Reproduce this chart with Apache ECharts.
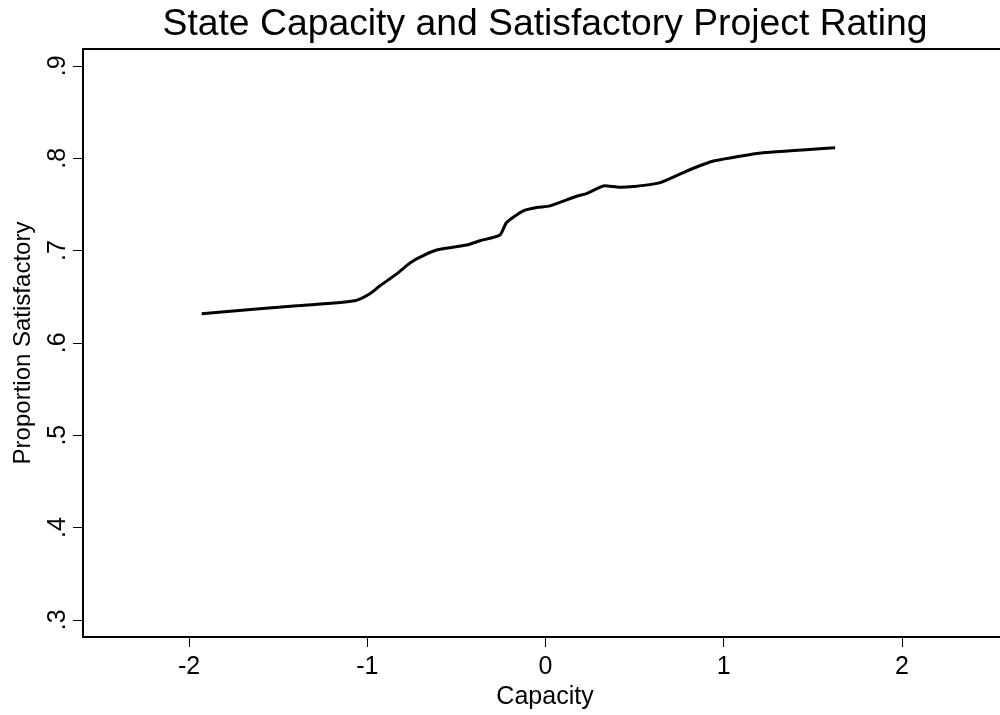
<!DOCTYPE html>
<html>
<head>
<meta charset="utf-8">
<script src="https://cdn.jsdelivr.net/npm/echarts@6/dist/echarts.min.js"></script>
<style>html,body{margin:0;padding:0;background:#fff}#c{width:1000px;height:715px}</style>
</head>
<body>
<div id="c"></div>
<script>
var capacity = [-1.929, -1.621, -1.378, -1.069, -0.985, -0.929, -0.835, -0.779, -0.723, -0.611, -0.442, -0.368, -0.256, -0.218, -0.125, -0.049, 0.025, 0.175, 0.231, 0.334, 0.418, 0.493, 0.643, 0.792, 0.942, 1.222, 1.625];
var propSatisfactory = [0.6316, 0.6366, 0.6404, 0.6457, 0.6532, 0.6618, 0.6747, 0.6837, 0.6909, 0.7006, 0.7060, 0.7106, 0.7168, 0.7305, 0.7430, 0.7466, 0.7484, 0.7588, 0.7617, 0.7701, 0.7685, 0.7693, 0.7736, 0.7861, 0.7969, 0.8059, 0.8113];
var xTicks = [-2, -1, 0, 1, 2];
var yTicks = [0.3, 0.4, 0.5, 0.6, 0.7, 0.8, 0.9];

var FONT = 'Liberation Sans, Arial, Helvetica, sans-serif';
var chart = echarts.init(document.getElementById('c'), null, {renderer: 'canvas'});
var pts = capacity.map(function (x, i) { return [x, propSatisfactory[i]]; });
chart.setOption({
  animation: false,
  backgroundColor: '#fff',
  title: {
    text: 'State Capacity and Satisfactory Project Rating',
    left: 540, top: 1, textAlign: 'center',
    textStyle: {fontFamily: FONT, fontSize: 37.3, fontWeight: 'normal', color: '#000'}
  },
  grid: {left: 83, top: 49, right: 0, bottom: 75, containLabel: false},
  xAxis: [{
    type: 'value', min: -2.595, max: 2.55, position: 'bottom',
    name: 'Capacity', nameLocation: 'middle', nameGap: 48,
    nameTextStyle: {fontFamily: FONT, fontSize: 25, color: '#000', padding: [0, 0, 0, 7]},
    axisLine: {show: true, onZero: false, lineStyle: {color: '#000', width: 2}},
    axisTick: {show: true, length: 10, customValues: xTicks, lineStyle: {color: '#000', width: 1}},
    axisLabel: {customValues: xTicks, margin: 18, fontFamily: FONT, fontSize: 25, color: '#000'},
    splitLine: {show: false}
  }, {
    type: 'value', min: -2.595, max: 2.55, position: 'top',
    axisLine: {show: true, onZero: false, lineStyle: {color: '#000', width: 2}},
    axisTick: {show: false}, axisLabel: {show: false}, splitLine: {show: false}
  }],
  yAxis: {
    type: 'value', min: 0.2814, max: 0.9183,
    name: 'Proportion Satisfactory', nameLocation: 'middle', nameGap: 48,
    nameTextStyle: {fontFamily: FONT, fontSize: 24, color: '#000'},
    axisLine: {show: true, onZero: false, lineStyle: {color: '#000', width: 2}},
    axisTick: {show: true, length: 10, customValues: yTicks, lineStyle: {color: '#000', width: 1}},
    axisLabel: {
      customValues: yTicks, rotate: 90, margin: 12, fontFamily: FONT, fontSize: 25, color: '#000',
      formatter: function (v) { return String(Math.round(v * 10) / 10).replace(/^0/, ''); }
    },
    splitLine: {show: false}
  },
  series: [{
    type: 'line', data: pts, xAxisIndex: 0, showSymbol: false, smooth: 0.2,
    lineStyle: {color: '#000', width: 3}
  }]
});
</script>
</body>
</html>
